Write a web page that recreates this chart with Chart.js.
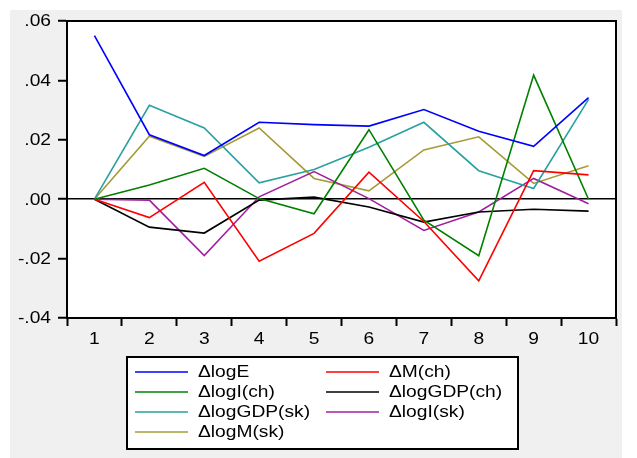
<!DOCTYPE html>
<html>
<head>
<meta charset="utf-8">
<script src="https://cdn.jsdelivr.net/npm/chart.js@4/dist/chart.umd.min.js"></script>
<style>
  body { margin: 0; background: #fff; }
  #wrap { width: 637px; height: 458px; }
</style>
</head>
<body>
<div id="wrap"><canvas id="myChart" width="637" height="458"></canvas></div>
<script>
// periods
const periods = ['1', '2', '3', '4', '5', '6', '7', '8', '9', '10'];

// series
const logE       = [0.0551, 0.0217, 0.0147, 0.0259, 0.0251, 0.0246, 0.0302, 0.0229, 0.0178, 0.0342];
const mCh        = [0.0000, -0.0062, 0.0057, -0.0209, -0.0115, 0.0091, -0.0075, -0.0275, 0.0096, 0.0082];
const logICh     = [0.0000, 0.0048, 0.0104, 0.0002, -0.0049, 0.0234, -0.0071, -0.0190, 0.0418, 0.0000];
const logGDPCh   = [0.0000, -0.0094, -0.0114, -0.0003, 0.0007, -0.0026, -0.0077, -0.0043, -0.0034, -0.0040];
const logGDPSk   = [0.0000, 0.0316, 0.0240, 0.0055, 0.0100, 0.0175, 0.0259, 0.0096, 0.0036, 0.0336];
const logISk     = [0.0000, -0.0003, -0.0190, 0.0008, 0.0093, 0.0002, -0.0105, -0.0043, 0.0070, -0.0015];
const logMSk     = [0.0000, 0.0212, 0.0144, 0.0240, 0.0070, 0.0028, 0.0166, 0.0210, 0.0053, 0.0113];

const seriesNames = ['logE', 'M(ch)', 'logI(ch)', 'logGDP(ch)', 'logGDP(sk)', 'logI(sk)', 'logM(sk)'];
const seriesData = [logE, mCh, logICh, logGDPCh, logGDPSk, logISk, logMSk];
const seriesColors = ['#0000ff', '#ff0000', '#008000', '#000000', '#2aa0a0', '#a020a0', '#a59c35'];

// y ticks
const yMin = -0.04, yMax = 0.06, yStep = 0.02;

const FONT = '16px "Liberation Sans", Arial, sans-serif';
const STRETCH = 1.2; // the original text is drawn wider than Arial

function fmtY(v) {
    const s = (Math.round(v * 100) / 100).toFixed(2);
    return s.replace('0.', '.');
}

function wideText(c, txt, x, y, align) {
    c.save();
    c.translate(x, y);
    c.scale(STRETCH, 1);
    c.textAlign = align;
    c.fillText(txt, 0, 0);
    c.restore();
}

// gray panel behind everything, frame, tick labels and legend box on top
const panelPlugin = {
    id: 'panel',
    beforeDraw(chart) {
        const c = chart.ctx;
        c.save();
        c.fillStyle = '#ffffff';
        c.fillRect(0, 0, chart.width, chart.height);
        c.fillStyle = '#f0f0f0';
        c.fillRect(10, 10, 612, chart.height - 10);
        const a = chart.chartArea;
        c.fillStyle = '#ffffff';
        c.fillRect(a.left, a.top, a.right - a.left, a.bottom - a.top);
        c.restore();
    },
    afterDraw(chart) {
        const c = chart.ctx;
        const a = chart.chartArea;
        c.save();
        c.strokeStyle = '#000';
        c.lineWidth = 2;
        c.strokeRect(a.left, a.top, a.right - a.left, a.bottom - a.top);

        c.font = FONT;
        c.fillStyle = '#000';
        c.textBaseline = 'middle';

        // tick labels
        const ys = chart.scales.y;
        ys.ticks.forEach((t, i) => {
            wideText(c, t.label, a.left - 16, ys.getPixelForTick(i) + 1, 'right');
        });
        const xs = chart.scales.x;
        xs.ticks.forEach((t, i) => {
            wideText(c, periods[i], xs.getPixelForTick(i), a.bottom + 22, 'center');
        });

        // legend box, two columns
        c.fillStyle = '#ffffff';
        c.fillRect(127, 357, 391, 92);
        c.strokeRect(127, 357, 391, 92);
        chart.data.datasets.forEach((ds, i) => {
            const col = i % 2, row = Math.floor(i / 2);
            const x = 135 + col * 191;
            const y = 372 + row * 20;
            c.strokeStyle = ds.borderColor;
            c.lineWidth = 1.5;
            c.beginPath();
            c.moveTo(x, y);
            c.lineTo(x + 53, y);
            c.stroke();
            c.fillStyle = '#000';
            wideText(c, '\u0394' + ds.label, x + 63, y + 1, 'left');
        });
        c.restore();
    }
};

const info = {
    labels: periods,
    datasets: seriesData.map((d, i) => ({
        label: seriesNames[i],
        data: d,
        borderColor: seriesColors[i],
        backgroundColor: seriesColors[i],
        borderWidth: 1.6,
        pointRadius: 0,
        tension: 0,
        fill: false
    }))
};

const options = {
    responsive: false,
    animation: false,
    layout: { padding: { left: 10, top: 21, right: 21, bottom: 110 } },
    scales: {
        x: {
            offset: true,
            grid: {
                offset: true,
                drawOnChartArea: false,
                tickLength: 8,
                tickColor: '#000',
                tickWidth: 2
            },
            border: { color: '#000', width: 2 },
            ticks: { display: false },
            afterFit: (s) => { s.height = 30; }
        },
        y: {
            min: yMin,
            max: yMax,
            ticks: { display: false, stepSize: yStep, callback: fmtY },
            grid: {
                color: (ctx) => (ctx.tick && Math.abs(ctx.tick.value) < 1e-9) ? '#000' : 'rgba(0,0,0,0)',
                lineWidth: 1.5,
                tickLength: 9,
                tickColor: '#000',
                tickWidth: 2
            },
            border: { color: '#000', width: 2 },
            afterFit: (s) => { s.width = 57; }
        }
    },
    plugins: {
        legend: { display: false },
        tooltip: { enabled: false }
    }
};

const myChart = new Chart(document.getElementById('myChart'), {
    type: 'line',
    data: info,
    options,
    plugins: [panelPlugin]
});
</script>
</body>
</html>
